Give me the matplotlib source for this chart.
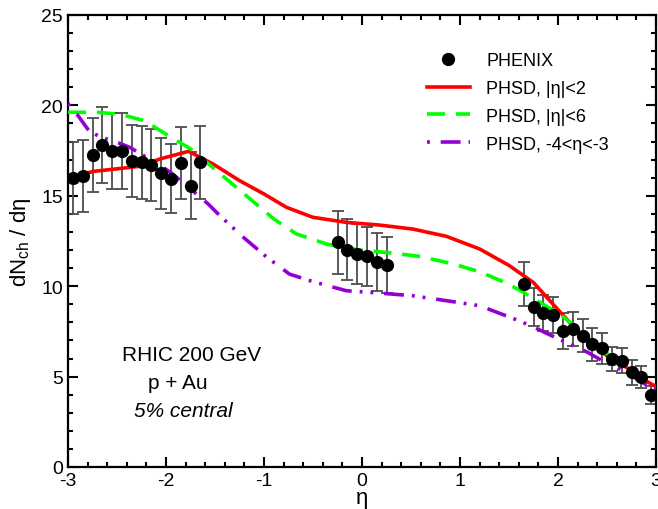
import matplotlib
matplotlib.use("Agg")
import matplotlib.pyplot as plt
from matplotlib.ticker import MultipleLocator

plt.rcParams['font.family'] = ['Liberation Sans', 'DejaVu Sans']
plt.rcParams['mathtext.fontset'] = 'custom'
plt.rcParams['mathtext.rm'] = 'Liberation Sans'
plt.rcParams['mathtext.it'] = 'Liberation Sans:italic'
plt.rcParams['axes.unicode_minus'] = False

# PHENIX data points (eta, dN/deta, error)
phenix_eta = [-2.95, -2.85, -2.75, -2.65, -2.55, -2.45, -2.35, -2.25, -2.15, -2.05,
              -1.95, -1.85, -1.75, -1.65,
              -0.25, -0.15, -0.05, 0.05, 0.15, 0.25,
              1.65, 1.75, 1.85, 1.95, 2.05, 2.15, 2.25, 2.35, 2.45, 2.55,
              2.65, 2.75, 2.85, 2.95]
phenix_dn = [15.98, 16.08, 17.27, 17.81, 17.50, 17.46, 16.94, 16.85, 16.72, 16.24,
             15.95, 16.80, 15.56, 16.85,
             12.43, 12.02, 11.78, 11.65, 11.32, 11.19,
             10.12, 8.83, 8.50, 8.43, 7.54, 7.63, 7.26, 6.78, 6.56, 5.97,
             5.88, 5.24, 4.96, 3.98]
phenix_err = [2.0, 2.0, 2.05, 2.1, 2.1, 2.1, 2.0, 2.0, 2.0, 1.95,
              1.9, 2.0, 1.85, 2.0,
              1.75, 1.7, 1.65, 1.65, 1.6, 1.55,
              1.2, 1.05, 1.0, 1.0, 1.0, 0.95, 0.9, 0.9, 0.85, 0.65,
              0.7, 0.7, 0.6, 0.5]

# PHSD, |eta|<2
red_eta = [-3.0, -2.74, -2.27, -2.06, -1.77, -1.52, -1.25, -1.0, -0.77, -0.5,
           -0.16, 0.18, 0.52, 0.86, 1.2, 1.5, 1.75, 1.95, 2.17, 2.3,
           2.5, 2.7, 2.9, 3.0]
red_dn = [16.0, 16.35, 16.63, 17.04, 17.46, 16.76, 15.84, 15.1, 14.36, 13.81,
          13.53, 13.38, 13.16, 12.76, 12.06, 11.15, 10.2, 9.0, 7.7, 7.0,
          6.15, 5.5, 4.75, 4.45]

# PHSD, |eta|<6
green_eta = [-3.0, -2.7, -2.46, -2.22, -1.95, -1.75, -1.52, -1.18, -0.9, -0.67,
             -0.36, -0.05, 0.29, 0.59, 0.93, 1.2, 1.44, 1.6, 1.73, 1.9,
             2.02, 2.2, 2.4, 2.6, 2.8, 3.0]
green_dn = [19.62, 19.62, 19.5, 19.15, 18.24, 17.6, 16.55, 15.0, 13.72, 12.89,
            12.33, 12.02, 11.84, 11.65, 11.23, 10.8, 10.25, 9.81, 9.39, 8.83,
            8.46, 7.65, 6.65, 5.9, 5.15, 4.75]

# PHSD, -4<eta<-3
purple_eta = [-3.0, -2.9, -2.78, -2.66, -2.5, -2.37, -2.2, -2.07, -1.94, -1.82,
              -1.69, -1.57, -1.45, -1.21, -0.97, -0.74, -0.5, -0.16, 0.18, 0.52,
              0.86, 1.2, 1.55, 1.75, 1.9, 2.1, 2.3, 2.45, 2.6, 2.75,
              2.9, 3.0]
purple_dn = [20.1, 19.45, 18.55, 18.24, 17.96, 17.68, 17.13, 16.72, 16.24, 15.69,
             15.1, 14.55, 13.9, 12.7, 11.6, 10.67, 10.25, 9.75, 9.62, 9.47,
             9.2, 8.92, 8.2, 7.75, 7.35, 6.85, 6.35, 5.88, 5.5, 5.05,
             4.55, 4.3]

fig = plt.figure(figsize=(6.58, 5.10), dpi=100)
ax = fig.add_axes([68 / 658, 42 / 510, 588 / 658, 452 / 510])

# error bars first, then theory curves, then the dots on top
ax.errorbar(phenix_eta, phenix_dn, yerr=phenix_err, fmt='none', ecolor='#4d4d4d',
            elinewidth=1.3, capsize=4.5, capthick=1.3, zorder=2)
ax.plot(red_eta, red_dn, color='#ff0000', lw=2.6, label='PHSD, |η|<2', zorder=3)
ax.plot(green_eta, green_dn, color='#00ff00', lw=2.6, dashes=(5, 3),
        label='PHSD, |η|<6', zorder=3)
ax.plot(purple_eta, purple_dn, color='#9400d3', lw=2.6,
        dashes=(0.8, 3, 5.5, 2.2, 0.8, 2.2), label='PHSD, -4<η<-3', zorder=3)
ax.plot(phenix_eta, phenix_dn, 'o', color='black', ms=8.5, ls='none',
        label='PHENIX', zorder=4)

ax.set_xlim(-3, 3)
ax.set_ylim(0, 25)
ax.xaxis.set_major_locator(MultipleLocator(1))
ax.xaxis.set_minor_locator(MultipleLocator(0.2))
ax.yaxis.set_major_locator(MultipleLocator(5))
ax.yaxis.set_minor_locator(MultipleLocator(1))
ax.tick_params(which='both', direction='in', top=True, right=True, width=1.5,
               labelsize=14)
ax.tick_params(which='major', length=7)
ax.tick_params(which='minor', length=3.5)
for sp in ax.spines.values():
    sp.set_linewidth(1.6)

ax.set_xlabel('η', fontsize=16, labelpad=-1)
ax.set_ylabel(r'dN$_\mathregular{ch}$ / dη', fontsize=16, labelpad=6)

handles, labels = ax.get_legend_handles_labels()
order = [3, 0, 1, 2]
ax.legend([handles[i] for i in order], [labels[i] for i in order],
          loc='upper left', bbox_to_anchor=(0.61, 0.918), frameon=False,
          fontsize=13, handlelength=2.4, handletextpad=0.9, labelspacing=0.6,
          borderpad=0, borderaxespad=0)

ax.text(-2.45, 6.2, 'RHIC 200 GeV', fontsize=15, va='center', ha='left')
ax.text(-2.18, 4.7, 'p + Au', fontsize=15, va='center', ha='left')
ax.text(-2.33, 3.1, '5% central', fontsize=15, va='center', ha='left',
        style='italic')

fig.savefig('out.png', dpi=100)
